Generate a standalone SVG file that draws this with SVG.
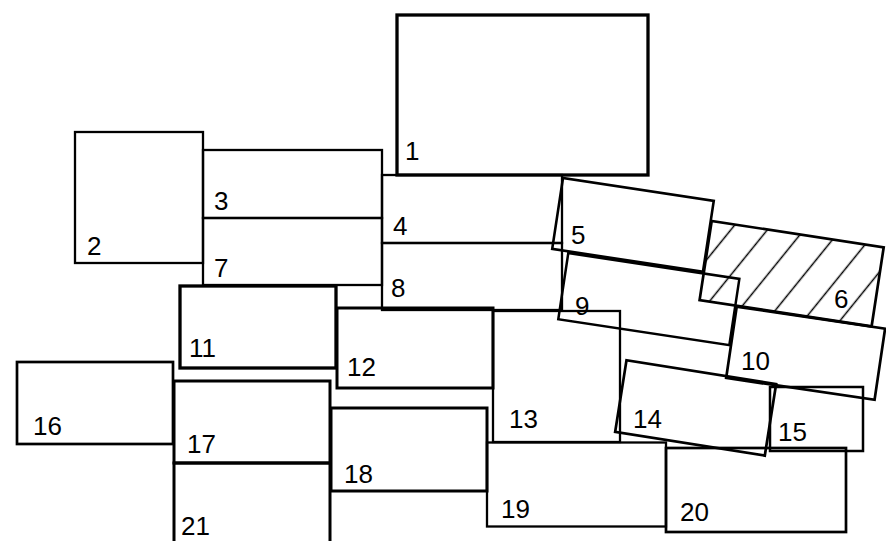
<svg xmlns="http://www.w3.org/2000/svg" width="886" height="541" viewBox="0 0 886 541">
<style>
.b{fill:none;stroke:#000;stroke-width:2.6}
.t{font-family:"Liberation Sans",Arial,sans-serif;font-size:26px;fill:#000}
</style>
<defs>
<pattern id="hatch" patternUnits="userSpaceOnUse" x="753.3" y="222.3" width="28.4" height="28.4" patternTransform="rotate(30.3 767.5 222.3)">
<line x1="14.2" y1="-1" x2="14.2" y2="30" stroke="#000" stroke-width="1.5"/>
</pattern>
</defs>
<rect width="886" height="541" fill="#fff"/>
<g id="connectors"></g>
<g id="n1"><rect class="b" x="397" y="15" width="251" height="160" style="stroke-width:3.3"/><text class="t" x="405" y="160">1</text></g>
<g id="n2"><rect class="b" x="75" y="132" width="128" height="131" style="stroke-width:2.3"/><text class="t" x="87" y="255">2</text></g>
<g id="n3"><rect class="b" x="203" y="150" width="179" height="68" style="stroke-width:2.3"/><text class="t" x="214" y="210">3</text></g>
<g id="n4"><rect class="b" x="382" y="175" width="180" height="68" style="stroke-width:2.3"/><text class="t" x="393" y="235">4</text></g>
<g id="n5"><rect class="b" x="563" y="178" width="152.5" height="71.7" transform="rotate(8.66 563 178)"/><text class="t" x="571" y="244">5</text></g>
<g id="n6"><rect x="711.7" y="221" width="174" height="80" transform="rotate(8.7 711.7 221)" fill="url(#hatch)" stroke="#000" stroke-width="2.7"/><text class="t" x="834" y="308">6</text></g>
<g id="n7"><rect class="b" x="203" y="218" width="179" height="67" style="stroke-width:2.3"/><text class="t" x="214" y="277">7</text></g>
<g id="n8"><rect class="b" x="382" y="243" width="180" height="67" style="stroke-width:2.3"/><text class="t" x="391" y="297">8</text></g>
<g id="n9"><rect class="b" x="568.3" y="253" width="173" height="67" transform="rotate(8.6 568.3 253)" style="stroke-width:2.5"/><text class="t" x="575" y="315">9</text></g>
<g id="n10"><rect class="b" x="736.7" y="306.7" width="150" height="72" transform="rotate(8.4 736.7 306.7)" style="stroke-width:2.7"/><text class="t" x="741" y="370">10</text></g>
<g id="n11"><rect class="b" x="180" y="286" width="156" height="82" style="stroke-width:3.3"/><text class="t" x="189" y="357">11</text></g>
<g id="n12"><rect class="b" x="337" y="308" width="156" height="80" style="stroke-width:3"/><text class="t" x="347" y="376">12</text></g>
<g id="n13"><rect class="b" x="493" y="311" width="127" height="131" style="stroke-width:2.3"/><text class="t" x="509" y="428">13</text></g>
<g id="n14"><rect class="b" x="626.5" y="360.3" width="151.5" height="72.5" transform="rotate(9 626.5 360.3)" style="stroke-width:2.7"/><text class="t" x="633" y="428">14</text></g>
<g id="n15"><rect class="b" x="770" y="387" width="93" height="64" style="stroke-width:2.5"/><text class="t" x="778" y="441">15</text></g>
<g id="n16"><rect class="b" x="17" y="362" width="156" height="82" style="stroke-width:2.7"/><text class="t" x="33" y="435">16</text></g>
<g id="n17"><rect class="b" x="174" y="381" width="156" height="82" style="stroke-width:3"/><text class="t" x="187" y="453">17</text></g>
<g id="n18"><rect class="b" x="331" y="408" width="156" height="83" style="stroke-width:3"/><text class="t" x="344" y="483">18</text></g>
<g id="n19"><rect class="b" x="487" y="442.5" width="179" height="84" style="stroke-width:2.3"/><text class="t" x="501" y="518">19</text></g>
<g id="n20"><rect class="b" x="666" y="448" width="180" height="84" style="stroke-width:2.7"/><text class="t" x="680" y="521">20</text></g>
<g id="n21"><rect class="b" x="174" y="463" width="156" height="100" style="stroke-width:3"/><text class="t" x="181" y="535">21</text></g>
</svg>
